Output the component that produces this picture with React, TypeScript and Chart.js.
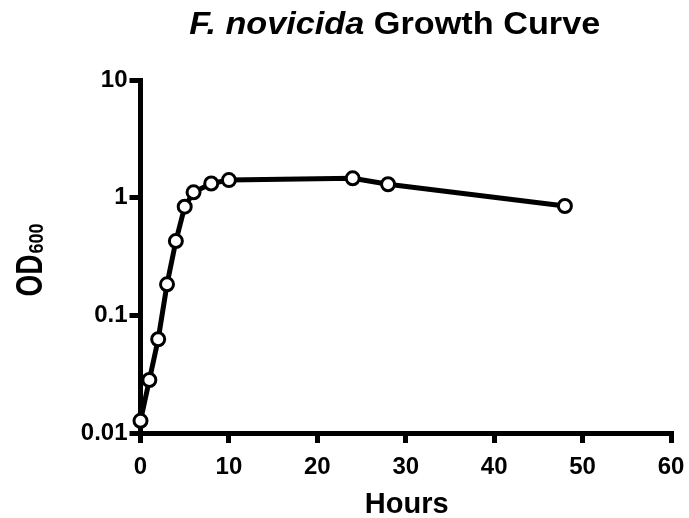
import { useEffect, useRef } from "react";
import { Chart, registerables } from "chart.js";

Chart.register(...registerables);

const hours = [0, 1, 2, 3, 4, 5, 6, 8, 10, 24, 28, 48];
const od600 = [0.0127, 0.0282, 0.0626, 0.1835, 0.428, 0.838, 1.11, 1.32, 1.41, 1.46, 1.3, 0.85];
const xTicks = [0, 10, 20, 30, 40, 50, 60];
const yTicks = [0.01, 0.1, 1, 10];
const yTickLabels = ["0.01", "0.1", "1", "10"];
const titleItalic = "F. novicida";
const titleRest = " Growth Curve";
const xLabel = "Hours";
const yLabelMain = "OD";
const yLabelSub = "600";

const FONT = '"Liberation Sans", Arial, Helvetica, sans-serif';

const textPlugin = {
  id: "texts",
  afterDraw(chart: any) {
    const ctx = chart.ctx as CanvasRenderingContext2D;
    const ca = chart.chartArea;
    const cx = (ca.left + ca.right) / 2;
    const cy = (ca.top + ca.bottom) / 2;
    ctx.save();
    ctx.fillStyle = "#000";
    ctx.textBaseline = "alphabetic";
    ctx.textAlign = "left";

    // Title
    ctx.font = `italic bold 32px ${FONT}`;
    const w1 = ctx.measureText(titleItalic).width;
    ctx.font = `bold 32px ${FONT}`;
    const w2 = ctx.measureText(titleRest).width;
    const sx = 1.07;
    const tcx = cx - 11;
    const tby = ca.top - 46;
    ctx.save();
    ctx.translate(tcx - ((w1 + w2) * sx) / 2, tby);
    ctx.scale(sx, 1);
    ctx.font = `italic bold 32px ${FONT}`;
    ctx.fillText(titleItalic, 0, 0);
    ctx.font = `bold 32px ${FONT}`;
    ctx.fillText(titleRest, w1, 0);
    ctx.restore();

    // X label
    ctx.font = `bold 29px ${FONT}`;
    ctx.textAlign = "center";
    ctx.fillText(xLabel, cx + 1, ca.bottom + 80);

    // Y label
    ctx.textAlign = "left";
    ctx.save();
    ctx.translate(ca.left - 98.5, cy + 40);
    ctx.rotate(-Math.PI / 2);
    ctx.font = `bold 28px ${FONT}`;
    const wOD = ctx.measureText(yLabelMain).width;
    ctx.save();
    ctx.scale(1, 1.35);
    ctx.fillText(yLabelMain, 0, 0);
    ctx.restore();
    ctx.save();
    ctx.translate(wOD + 1, 0.5);
    ctx.scale(1, 1.1);
    ctx.font = `bold 18px ${FONT}`;
    ctx.fillText(yLabelSub, 0, 0);
    ctx.restore();
    ctx.restore();

    ctx.restore();
  },
};

export default function App() {
  const ref = useRef<HTMLCanvasElement | null>(null);

  useEffect(() => {
    if (!ref.current) return;
    const tickFont = { family: FONT, size: 24, weight: "bold" as const };
    const chart = new Chart(ref.current, {
      type: "line",
      data: {
        datasets: [
          {
            data: hours.map((h, i) => ({ x: h, y: od600[i] })),
            borderColor: "#000",
            borderWidth: 5,
            pointRadius: 6.5,
            pointBorderWidth: 3,
            pointBackgroundColor: "#fff",
            pointBorderColor: "#000",
            tension: 0,
            fill: false,
            clip: false as any,
          },
        ],
      },
      options: {
        animation: false,
        responsive: false,
        devicePixelRatio: 1,
        layout: { padding: { top: 80, right: 18, left: 0, bottom: 0 } },
        plugins: {
          legend: { display: false },
          title: { display: false },
          tooltip: { enabled: false },
        },
        scales: {
          x: {
            type: "linear",
            min: 0,
            max: 60,
            afterBuildTicks: (s: any) => {
              s.ticks = xTicks.map((v) => ({ value: v }));
            },
            afterFit: (s: any) => {
              s.height = 85;
              s.paddingRight = 0;
              s.paddingLeft = 0;
            },
            ticks: { color: "#000", font: tickFont, padding: 10, maxRotation: 0, autoSkip: false },
            grid: {
              drawOnChartArea: false,
              drawTicks: true,
              tickLength: 10,
              tickWidth: 5,
              lineWidth: 5,
              tickColor: "#000",
              color: "#000",
            },
            border: { display: true, width: 5, color: "#000" },
          },
          y: {
            type: "logarithmic",
            min: 0.01,
            max: 10,
            afterBuildTicks: (s: any) => {
              s.ticks = yTicks.map((v) => ({ value: v }));
            },
            afterFit: (s: any) => {
              s.width = 140.5;
              s.paddingTop = 0;
              s.paddingBottom = 0;
            },
            ticks: {
              color: "#000",
              font: tickFont,
              padding: 2,
              autoSkip: false,
              callback: (v: any) => {
                const i = yTicks.findIndex((t) => Math.abs(t - Number(v)) < 1e-9);
                return i >= 0 ? yTickLabels[i] : "";
              },
            },
            grid: {
              drawOnChartArea: false,
              drawTicks: true,
              tickLength: 11,
              tickWidth: 5,
              lineWidth: 5,
              tickColor: "#000",
              color: "#000",
            },
            border: { display: true, width: 5, color: "#000" },
          },
        },
      },
      plugins: [textPlugin],
    });
    return () => chart.destroy();
  }, []);

  return (
    <div style={{ position: "absolute", left: 0, top: 0, width: 689, height: 518, background: "#fff" }}>
      <canvas ref={ref} width={689} height={518} style={{ display: "block" }} />
    </div>
  );
}
